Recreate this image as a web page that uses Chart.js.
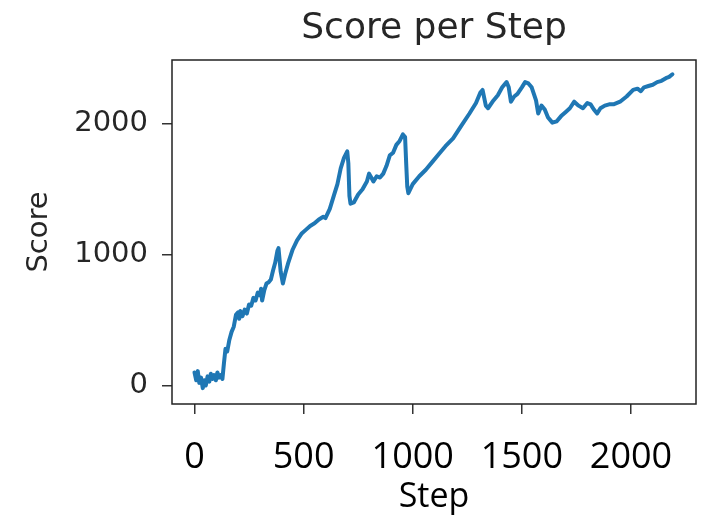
<!DOCTYPE html>
<html>
<head>
<meta charset="utf-8">
<script src="https://cdn.jsdelivr.net/npm/chart.js@4"></script>
<style>
html,body{margin:0;padding:0;background:#fff;}
#wrap{width:703px;height:518px;}
</style>
</head>
<body>
<div id="wrap"><canvas id="c" width="703" height="518"></canvas></div>
<script>
const titleText = "Score per Step";
const xLabel = "Step";
const yLabel = "Score";
const xTicks = [0, 500, 1000, 1500, 2000];
const yTicks = [0, 1000, 2000];

const steps = [
  0,8,15,22,30,38,45,52,60,68,75,82,90,98,105,112,120,128,
  135,142,150,160,170,180,190,200,205,210,220,230,240,250,260,270,280,290,300,305,310,320,330,340,350,360,370,380,385,395,405,415,430,450,470,490,510,530,550,570,590,600,620,640,655,670,685,700,705,710,715,730,750,770,790,800,810,820,835,850,865,880,895,910,925,940,955,965,970,975,980,
  1000,1030,1060,1090,1120,1150,1185,1220,1260,1290,1310,1320,1335,1345,1370,1390,1410,1430,1440,1450,1465,1480,1500,1515,1530,1545,1555,1565,1575,1590,1605,1620,1640,1660,1680,1700,1720,1740,1760,1780,1800,1815,1830,1845,1860,1880,1900,1920,1950,1980,2010,2030,2045,2060,2080,2100,2120,2140,2160,2175,2190
];
const scores = [
  100,40,110,20,60,-20,40,0,70,30,90,50,80,40,100,60,80,50,
  170,280,260,350,410,450,540,560,510,570,530,580,550,620,610,670,650,710,690,740,650,730,780,790,810,880,940,1030,1050,870,780,850,940,1040,1110,1160,1190,1220,1240,1270,1290,1280,1350,1460,1540,1660,1740,1790,1700,1450,1390,1400,1460,1500,1560,1620,1590,1560,1600,1590,1620,1680,1760,1780,1840,1870,1920,1900,1700,1520,1470,
  1540,1600,1650,1710,1770,1830,1890,1980,2080,2160,2240,2260,2140,2120,2180,2220,2280,2320,2280,2170,2210,2230,2280,2320,2310,2280,2230,2180,2080,2140,2110,2050,2010,2020,2060,2090,2120,2170,2140,2120,2160,2150,2110,2080,2120,2140,2150,2150,2170,2210,2260,2270,2250,2280,2290,2300,2320,2330,2350,2360,2380
];

const points = steps.map((s, i) => ({x: s, y: scores[i]}));

const framePlugin = {
  id: 'frame',
  afterDatasetsDraw(chart) {
    const {ctx, chartArea: a} = chart;
    ctx.save();
    ctx.strokeStyle = '#222';
    ctx.lineWidth = 1.5;
    ctx.strokeRect(a.left, a.top, a.right - a.left, a.bottom - a.top);
    ctx.restore();
  }
};

const titlePlugin = {
  id: 'plotTitle',
  afterDraw(chart) {
    const {ctx, chartArea: a} = chart;
    ctx.save();
    ctx.fillStyle = '#262626';
    ctx.font = '36px "DejaVu Sans"';
    ctx.textAlign = 'center';
    ctx.textBaseline = 'alphabetic';
    ctx.fillText(titleText, (a.left + a.right) / 2, 38);
    ctx.restore();
  }
};

new Chart(document.getElementById('c'), {
  type: 'line',
  data: {
    datasets: [{
      data: points,
      borderColor: '#1f77b4',
      borderWidth: 4,
      pointRadius: 0,
      tension: 0,
      borderJoinStyle: 'round',
      borderCapStyle: 'round',
      fill: false
    }]
  },
  options: {
    responsive: false,
    animation: false,
    devicePixelRatio: 1,
    layout: {padding: {left: 0, right: 7, top: 60, bottom: 0}},
    plugins: {
      legend: {display: false},
      tooltip: {enabled: false},
      title: {display: false}
    },
    scales: {
      x: {
        type: 'linear',
        min: -103,
        max: 2298,
        afterBuildTicks: (s) => { s.ticks = xTicks.map(v => ({value: v})); },
        afterFit: (s) => { s.height = 114; },
        border: {display: false},
        grid: {drawOnChartArea: false, drawTicks: true, tickLength: 10, color: '#333', lineWidth: 1.5},
        ticks: {
          color: '#000',
          padding: 22,
          maxRotation: 0,
          autoSkip: false,
          font: {family: 'Open Sans', size: 36, lineHeight: 1.2},
          callback: (v) => String(v)
        },
        title: {
          display: true,
          text: xLabel,
          color: '#000',
          font: {family: 'Open Sans', size: 34, lineHeight: 1.2},
          padding: {top: 0, bottom: 0}
        }
      },
      y: {
        type: 'linear',
        min: -141.5,
        max: 2489,
        afterBuildTicks: (s) => { s.ticks = yTicks.map(v => ({value: v})); },
        afterFit: (s) => { s.width = 172; },
        border: {display: false},
        grid: {drawOnChartArea: false, drawTicks: true, tickLength: 10, color: '#333', lineWidth: 1.5},
        ticks: {
          color: '#262626',
          padding: 14,
          autoSkip: false,
          font: {family: 'DejaVu Sans', size: 29, lineHeight: 1.2},
          callback: (v) => String(v)
        },
        title: {
          display: true,
          text: yLabel,
          color: '#262626',
          font: {family: 'DejaVu Sans', size: 29, lineHeight: 1.2},
          padding: {top: 22, bottom: 0}
        }
      }
    }
  },
  plugins: [framePlugin, titlePlugin]
});
</script>
</body>
</html>
